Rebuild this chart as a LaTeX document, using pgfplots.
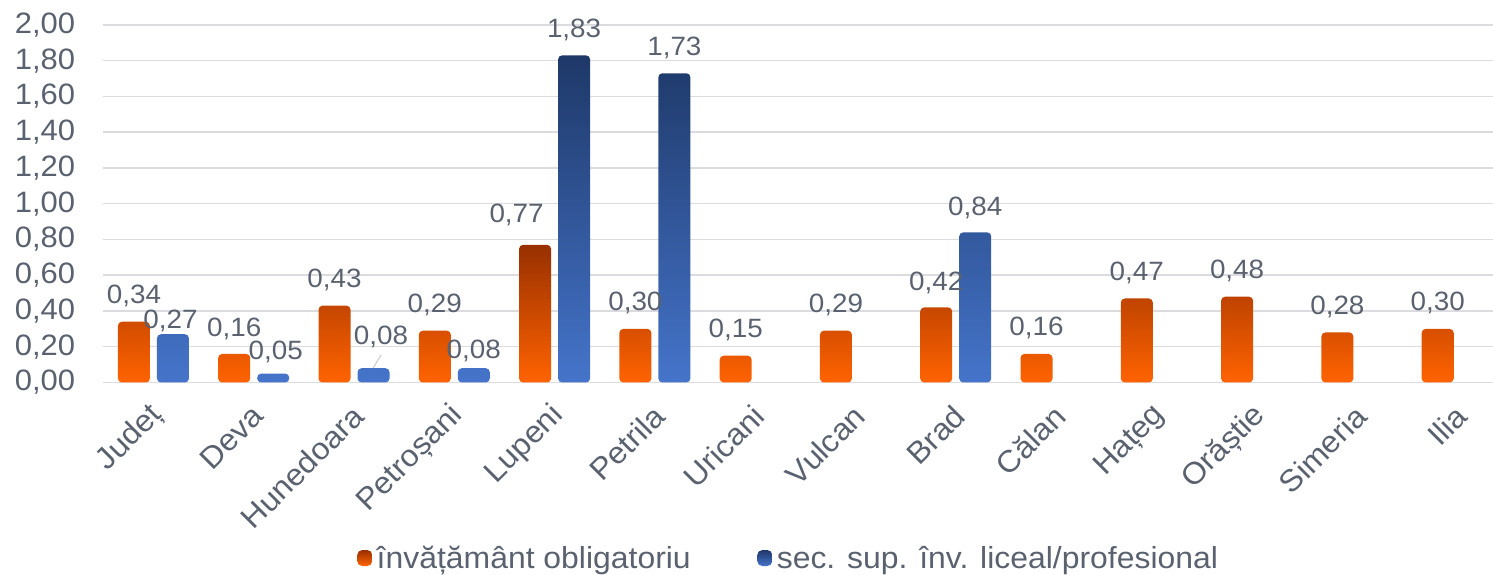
\documentclass[border=0pt]{standalone}
\usepackage{pgfplots}
\usepackage{pgfplotstable}
\pgfplotsset{compat=1.18}
\usepackage{fontspec}
\setmainfont{Liberation Sans}[FakeStretch=1.05]
\definecolor{txt}{HTML}{5A6270}
\definecolor{gridc}{HTML}{DCDCE0}
\definecolor{orTop}{HTML}{983000}
\definecolor{orBot}{HTML}{FF6300}
\definecolor{blTop}{HTML}{1E3868}
\definecolor{blBot}{HTML}{4574CA}

\pgfplotstableread{
x y dx dy
0 0.34 -19.5 18
1 0.16 -19.5 17
2 0.43 -19.5 18
3 0.29 -19.5 18
4 0.77 -38 22
5 0.30 -19.5 18
6 0.15 -19.5 18
7 0.29 -19.5 18
8 0.42 -19.5 17
9 0.16 -19.5 18
10 0.47 -19.5 18
11 0.48 -19.5 18
12 0.28 -19.5 18
13 0.30 -19.5 18
}\orangedata

\pgfplotstableread{
x y dx dy
0 0.27 17 6
1 0.05 22 14
2 0.08 27 24
3 0.08 19.5 10
4 1.83 19.5 18
5 1.73 19.5 18
8 0.84 19.5 17
}\bluedata

\begin{document}
\begin{tikzpicture}
\path[use as bounding box] (0,0) rectangle (1493pt,575pt);
\begin{axis}[
  at={(103.3pt,192.5pt)}, anchor=south west,
  scale only axis,
  width=1404pt, height=357.5pt,
  xmin=-0.5, xmax=13.5,
  ymin=0, ymax=2,
  ytick={0,0.2,...,2.01},
  xtick={0,...,13},
  xticklabels={Județ,Deva,Hunedoara,Petroșani,Lupeni,Petrila,Uricani,Vulcan,Brad,Călan,Hațeg,Orăștie,Simeria,Ilia},
  major tick length=0pt,
  axis line style={draw=none},
  ymajorgrids,
  grid style={gridc, line width=1.5pt},
  /pgf/number format/assume math mode=true,
  yticklabel={\pgfmathprintnumber[fixed,fixed zerofill,precision=2,use comma]{\tick}},
  yticklabel style={font=\fontsize{29.5}{30}\selectfont, text=txt, inner sep=0pt, xshift=-28pt, anchor=east},
  xticklabel style={font=\fontsize{30.5}{32}\selectfont, text=txt, rotate=45, anchor=east, inner sep=0pt, xshift=-17pt, yshift=-23pt},
  legend style={at={(0.489,-0.491)}, anchor=center, draw=none, fill=none,
     font=\fontsize{30.4}{32}\selectfont, text=txt,
     /tikz/every even column/.append style={column sep=62pt},
     nodes={inner sep=4.5pt}},
  legend columns=2,
  clip=false,
]
\addplot[ybar, bar width=32pt, bar shift=-19.5pt, draw=none, rounded corners=4pt,
  top color=orTop, bottom color=orBot,
  visualization depends on={\thisrow{dx} \as \labdx},
  visualization depends on={\thisrow{dy} \as \labdy},
  nodes near coords={\pgfmathprintnumber[fixed,fixed zerofill,precision=2,use comma,assume math mode=true]{\pgfplotspointmeta}},
  nodes near coords style={anchor=base, inner sep=0pt, xshift=\labdx pt, yshift=\labdy pt, font=\fontsize{26.5}{28}\selectfont, text=txt},
  legend image code/.code={\shade[top color=orTop, bottom color=orBot, rounded corners=5pt] (0pt,-8pt) rectangle (15pt,8pt);}
] table[x=x,y=y] {\orangedata};
\addlegendentry{învățământ obligatoriu}
\addplot[ybar, bar width=32pt, bar shift=19.5pt, draw=none, rounded corners=4pt,
  top color=blTop, bottom color=blBot,
  visualization depends on={\thisrow{dx} \as \labdx},
  visualization depends on={\thisrow{dy} \as \labdy},
  nodes near coords={\pgfmathprintnumber[fixed,fixed zerofill,precision=2,use comma,assume math mode=true]{\pgfplotspointmeta}},
  nodes near coords style={anchor=base, inner sep=0pt, xshift=\labdx pt, yshift=\labdy pt, font=\fontsize{26.5}{28}\selectfont, text=txt},
  legend image code/.code={\shade[top color=blTop, bottom color=blBot, rounded corners=5pt] (0pt,-8pt) rectangle (15pt,8pt);}
] table[x=x,y=y] {\bluedata};
\addlegendentry{sec. sup. înv. liceal/profesional}
\draw[gridc!80!gray, line width=1pt] (axis cs:2.19,0.081) -- (axis cs:2.27,0.154);
\end{axis}
\end{tikzpicture}
\end{document}
